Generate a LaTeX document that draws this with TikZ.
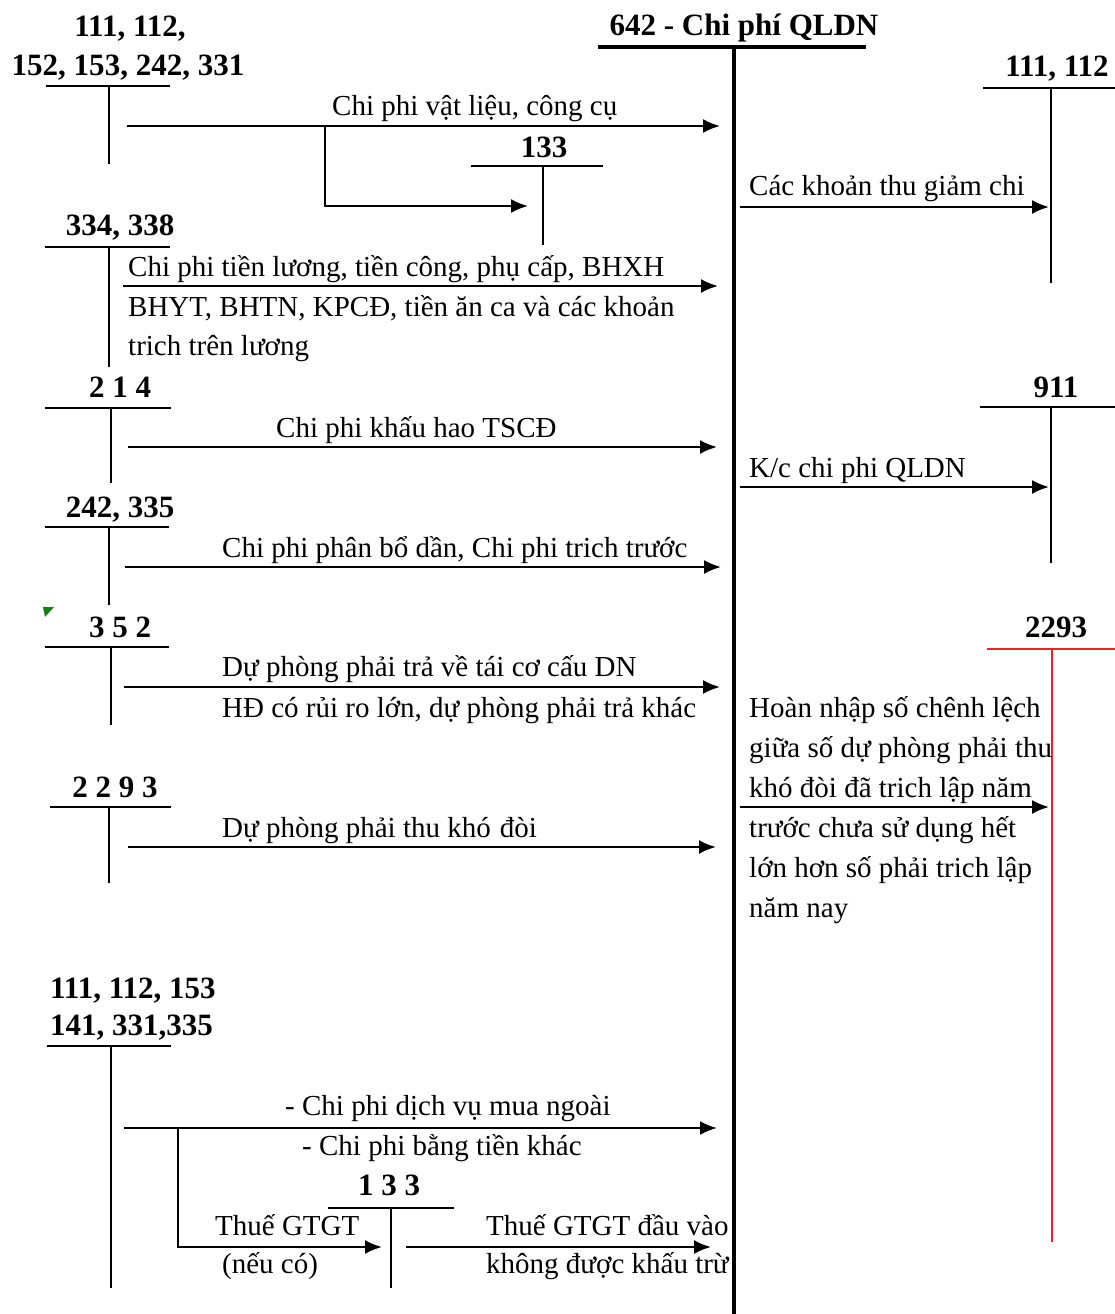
\documentclass[tikz,border=0pt]{standalone}
\usepackage{fontspec}
\setmainfont{Liberation Serif}
\usetikzlibrary{arrows.meta}
\definecolor{redline}{RGB}{240,30,40}
\definecolor{markgreen}{RGB}{20,130,20}
\begin{document}
\begin{tikzpicture}[x=1pt,y=-1pt,
  lbl/.style={font=\fontsize{29}{40}\selectfont, inner sep=0pt, anchor=base west},
  acc/.style={font=\bfseries\fontsize{31}{38}\selectfont, inner sep=0pt, anchor=base},
  tline/.style={line width=2pt},
  mainline/.style={line width=4pt},
  redt/.style={line width=1.6pt, draw=redline},
  arr/.style={line width=2.2pt, -{Latex[length=17pt,width=14pt]}}]
\useasboundingbox (0,0) rectangle (1115,1314);

% ---------- main account 642 ----------
\node[acc] (t642) at (744,36) {642 - Chi phí QLDN};
\coordinate (m1) at (598,47); \coordinate (m2) at (866,47);
\coordinate (mtop) at (734,47); \coordinate (mbot) at (734,1314);
\draw[mainline] (m1) -- (m2);
\draw[mainline] (mtop) -- (mbot);

% ---------- left account 111,112,152,... ----------
\node[acc] (L1a) at (130,37) {111, 112,};
\node[acc] (L1b) at (128,75) {152, 153, 242, 331};
\coordinate (L1h1) at (46,86); \coordinate (L1h2) at (170,86);
\coordinate (L1v1) at (109,86); \coordinate (L1v2) at (109,164);
\draw[tline] (L1h1) -- (L1h2); \draw[tline] (L1v1) -- (L1v2);
\coordinate (a1s) at (127,126); \coordinate (a1e) at (720,126);
\draw[arr] (a1s) -- (a1e);
\node[lbl] (l1) at (332,115) {Chi phi vật liệu, công cụ};
\coordinate (b1) at (325,126); \coordinate (b1c) at (325,206); \coordinate (b1e) at (528,206);
\draw[arr] (b1) -- (b1c) -- (b1e);

% 133 (top)
\node[acc] (A133) at (544,157) {133};
\coordinate (Ah1) at (471,166); \coordinate (Ah2) at (603,166);
\coordinate (Av1) at (543,166); \coordinate (Av2) at (543,245);
\draw[tline] (Ah1) -- (Ah2); \draw[tline] (Av1) -- (Av2);

% ---------- 334, 338 ----------
\node[acc] (L2) at (120,235) {334, 338};
\coordinate (L2h1) at (45,247); \coordinate (L2h2) at (170,247);
\coordinate (L2v1) at (109,247); \coordinate (L2v2) at (109,367);
\draw[tline] (L2h1) -- (L2h2); \draw[tline] (L2v1) -- (L2v2);
\coordinate (a2s) at (123,286); \coordinate (a2e) at (718,286);
\draw[arr] (a2s) -- (a2e);
\node[lbl] (l2a) at (128,276) {Chi phi tiền lương, tiền công, phụ cấp, BHXH};
\node[lbl] (l2b) at (128,316) {BHYT, BHTN, KPCĐ, tiền ăn ca và các khoản};
\node[lbl] (l2c) at (128,355) {trich trên lương};

% ---------- 214 ----------
\node[acc] (L3) at (120,397) {2 1 4};
\coordinate (L3h1) at (45,408); \coordinate (L3h2) at (171,408);
\coordinate (L3v1) at (111,408); \coordinate (L3v2) at (111,483);
\draw[tline] (L3h1) -- (L3h2); \draw[tline] (L3v1) -- (L3v2);
\coordinate (a3s) at (128,447); \coordinate (a3e) at (717,447);
\draw[arr] (a3s) -- (a3e);
\node[lbl] (l3) at (276,437) {Chi phi khấu hao TSCĐ};

% ---------- 242, 335 ----------
\node[acc] (L4) at (120,517) {242, 335};
\coordinate (L4h1) at (45,527); \coordinate (L4h2) at (169,527);
\coordinate (L4v1) at (109,527); \coordinate (L4v2) at (109,605);
\draw[tline] (L4h1) -- (L4h2); \draw[tline] (L4v1) -- (L4v2);
\coordinate (a4s) at (125,567); \coordinate (a4e) at (721,567);
\draw[arr] (a4s) -- (a4e);
\node[lbl] (l4) at (222,557) {Chi phi phân bổ dần, Chi phi trich trước};

% green mark
\fill[markgreen] (43,607) -- (54,607) -- (45,617) -- cycle;

% ---------- 352 ----------
\node[acc] (L5) at (120,637) {3 5 2};
\coordinate (L5h1) at (45,647); \coordinate (L5h2) at (169,647);
\coordinate (L5v1) at (111,647); \coordinate (L5v2) at (111,725);
\draw[tline] (L5h1) -- (L5h2); \draw[tline] (L5v1) -- (L5v2);
\coordinate (a5s) at (124,687); \coordinate (a5e) at (720,687);
\draw[arr] (a5s) -- (a5e);
\node[lbl] (l5a) at (222,676) {Dự phòng phải trả về tái cơ cấu DN};
\node[lbl] (l5b) at (222,717) {HĐ có rủi ro lớn, dự phòng phải trả khác};

% ---------- 2293 left ----------
\node[acc] (L6) at (115,797) {2 2 9 3};
\coordinate (L6h1) at (50,807); \coordinate (L6h2) at (171,807);
\coordinate (L6v1) at (109,807); \coordinate (L6v2) at (109,883);
\draw[tline] (L6h1) -- (L6h2); \draw[tline] (L6v1) -- (L6v2);
\coordinate (a6s) at (128,847); \coordinate (a6e) at (716,847);
\draw[arr] (a6s) -- (a6e);
\node[lbl] (l6) at (222,837) {Dự phòng phải thu khó\hspace{9pt}đòi};

% ---------- 111, 112, 153 / 141, 331, 335 ----------
\node[acc, anchor=base west] (L7a) at (50,998) {111, 112, 153};
\node[acc, anchor=base west] (L7b) at (50,1035) {141, 331,335};
\coordinate (L7h1) at (47,1046); \coordinate (L7h2) at (171,1046);
\coordinate (L7v1) at (111,1046); \coordinate (L7v2) at (111,1288);
\draw[tline] (L7h1) -- (L7h2); \draw[tline] (L7v1) -- (L7v2);
\coordinate (a7s) at (124,1128); \coordinate (a7e) at (717,1128);
\draw[arr] (a7s) -- (a7e);
\node[lbl] (l7a) at (285,1115) {- Chi phi dịch vụ mua ngoài};
\node[lbl] (l7b) at (302,1155) {- Chi phi bằng tiền khác};
\coordinate (b7) at (178,1128); \coordinate (b7c) at (178,1247); \coordinate (b7e) at (382,1247);
\draw[arr] (b7) -- (b7c) -- (b7e);
\node[lbl] (l7c) at (215,1235) {Thuế GTGT};
\node[lbl] (l7d) at (222,1273) {(nếu có)};

% 133 (bottom)
\node[acc] (B133) at (389,1195) {1 3 3};
\coordinate (Bh1) at (328,1208); \coordinate (Bh2) at (454,1208);
\coordinate (Bv1) at (391,1208); \coordinate (Bv2) at (391,1288);
\draw[tline] (Bh1) -- (Bh2); \draw[tline] (Bv1) -- (Bv2);
\coordinate (a8s) at (406,1247); \coordinate (a8e) at (711,1247);
\draw[arr] (a8s) -- (a8e);
\node[lbl] (l8a) at (486,1235) {Thuế GTGT đầu vào};
\node[lbl] (l8b) at (486,1273) {không được khấu trừ};

% ---------- right 111, 112 ----------
\node[acc] (R1) at (1057,77) {111, 112};
\coordinate (R1h1) at (983,88); \coordinate (R1h2) at (1115,88);
\coordinate (R1v1) at (1051,88); \coordinate (R1v2) at (1051,283);
\draw[tline] (R1h1) -- (R1h2); \draw[tline] (R1v1) -- (R1v2);
\coordinate (r1s) at (740,207); \coordinate (r1e) at (1049,207);
\draw[arr] (r1s) -- (r1e);
\node[lbl] (rl1) at (749,195) {Các khoản thu giảm chi};

% ---------- right 911 ----------
\node[acc] (R2) at (1056,397) {911};
\coordinate (R2h1) at (980,407); \coordinate (R2h2) at (1115,407);
\coordinate (R2v1) at (1051,407); \coordinate (R2v2) at (1051,563);
\draw[tline] (R2h1) -- (R2h2); \draw[tline] (R2v1) -- (R2v2);
\coordinate (r2s) at (740,487); \coordinate (r2e) at (1049,487);
\draw[arr] (r2s) -- (r2e);
\node[lbl] (rl2) at (749,477) {K/c chi phi QLDN};

% ---------- right 2293 (red) ----------
\node[acc] (R3) at (1056,637) {2293};
\coordinate (R3h1) at (987,649); \coordinate (R3h2) at (1115,649);
\coordinate (R3v1) at (1052,649); \coordinate (R3v2) at (1052,1242);
\draw[redt] (R3h1) -- (R3h2); \draw[redt] (R3v1) -- (R3v2);
\coordinate (r3s) at (740,807); \coordinate (r3e) at (1049,807);
\draw[arr] (r3s) -- (r3e);
\node[lbl] (rl3a) at (749,717) {Hoàn nhập số chênh lệch};
\node[lbl] (rl3b) at (749,757) {giữa số dự phòng phải thu};
\node[lbl] (rl3c) at (749,797) {khó đòi đã trich lập năm};
\node[lbl] (rl3d) at (749,837) {trước chưa sử dụng hết};
\node[lbl] (rl3e) at (749,877) {lớn hơn số phải trich lập};
\node[lbl] (rl3f) at (749,917) {năm nay};
\end{tikzpicture}
\end{document}
